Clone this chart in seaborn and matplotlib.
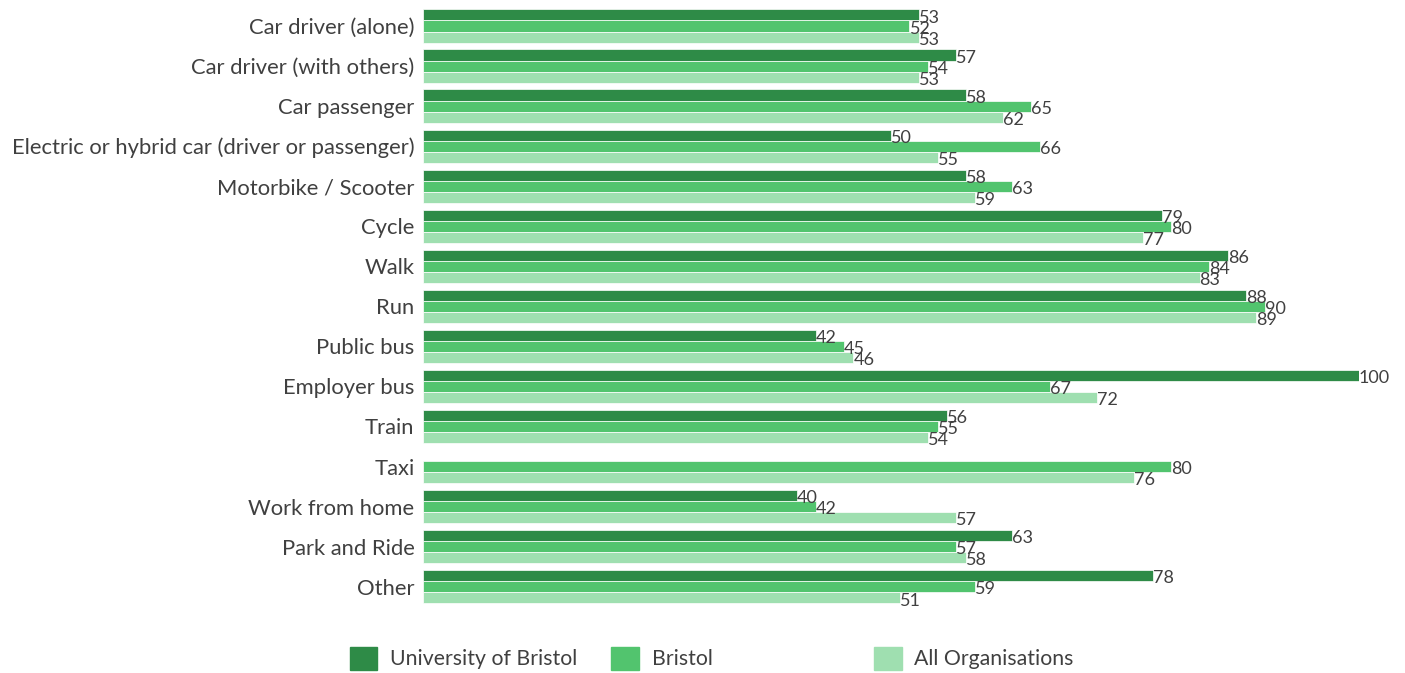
import matplotlib
matplotlib.use("Agg")
import matplotlib.pyplot as plt
from matplotlib.patches import Patch
import seaborn as sns
import numpy as np
import pandas as pd

categories = [
    "Car driver (alone)", "Car driver (with others)", "Car passenger",
    "Electric or hybrid car (driver or passenger)", "Motorbike / Scooter",
    "Cycle", "Walk", "Run", "Public bus", "Employer bus", "Train", "Taxi",
    "Work from home", "Park and Ride", "Other",
]
series = ["University of Bristol", "Bristol", "All Organisations"]
uob = [53, 57, 58, 50, 58, 79, 86, 88, 42, 100, 56, np.nan, 40, 63, 78]
bristol = [52, 54, 65, 66, 63, 80, 84, 90, 45, 67, 55, 80, 42, 57, 59]
all_orgs = [53, 53, 62, 55, 59, 77, 83, 89, 46, 72, 54, 76, 57, 58, 51]
colors = ["#2e8b47", "#52c46e", "#9fdfb0"]

df = pd.DataFrame({
    "mode": categories * 3,
    "group": [s for s in series for _ in categories],
    "value": uob + bristol + all_orgs,
})

sns.set_theme(style="white")
plt.rcParams["font.family"] = ["Lato", "DejaVu Sans"]
text_col = "#404040"

fig = plt.figure(figsize=(14.05, 6.73), dpi=100)
ax = fig.add_axes([0.301, 0.0985, 0.666, 0.8926])

sns.barplot(data=df, y="mode", x="value", hue="group", order=categories,
            hue_order=series, palette=colors, saturation=1, width=0.83,
            orient="h", edgecolor="white", linewidth=0.5, legend=False, ax=ax)

for cont in ax.containers:
    labels = []
    for bar in cont:
        w = bar.get_width()
        labels.append("" if np.isnan(w) or w == 0 else f"{w:.0f}")
    for t in ax.bar_label(cont, labels=labels, padding=0, fontsize=13,
                          color=text_col, clip_on=False):
        t.xyann = (0, -2)

ax.set_xlim(0, 100)
ax.set_ylim(14.5, -0.5)
ax.set_xlabel("")
ax.set_ylabel("")
ax.set_xticks([])
ax.tick_params(axis="y", length=0, pad=6, labelsize=15.8, labelcolor=text_col)
for s in ax.spines.values():
    s.set_visible(False)

# legend entries placed individually, as in the original
legend_x = [0.249, 0.435, 0.622]
for name, col, lx in zip(series, colors, legend_x):
    leg = fig.legend(handles=[Patch(facecolor=col, edgecolor=col)], labels=[name],
                     loc="center left", bbox_to_anchor=(lx, 0.022), frameon=False,
                     fontsize=15.3, handlelength=1.3, handleheight=1.3,
                     handletextpad=0.6, borderaxespad=0, borderpad=0)
    for t in leg.get_texts():
        t.set_color(text_col)

fig.savefig("out.png", dpi=100)
